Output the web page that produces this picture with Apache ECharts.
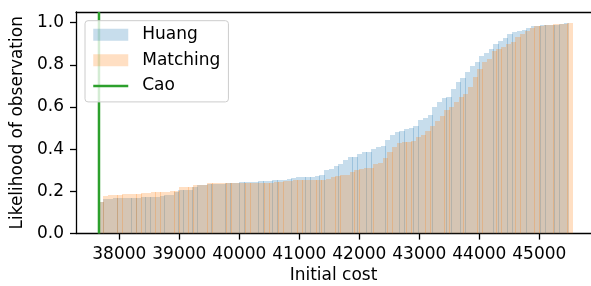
<!DOCTYPE html>
<html>
<head>
<meta charset="utf-8">
<script src="https://cdn.jsdelivr.net/npm/echarts@6/dist/echarts.min.js"></script>
<style>
  html, body { margin: 0; padding: 0; background: #fff; }
  #chart { width: 591px; height: 286px; }
</style>
</head>
<body>
<div id="chart"></div>
<script>
// cumulative histogram, 100 bins per method, heights
var huangRange = [37661, 45495];
var matchingRange = [37661, 45556];
var caoCost = 37661;

var huangHeights = [
  0.15, 0.163, 0.166, 0.167, 0.168, 0.168, 0.169, 0.17, 0.17, 0.173,
  0.173, 0.174, 0.175, 0.18, 0.181, 0.183, 0.197, 0.205, 0.206, 0.207,
  0.22, 0.231, 0.232, 0.236, 0.236, 0.237, 0.237, 0.238, 0.238, 0.239,
  0.244, 0.244, 0.245, 0.246, 0.25, 0.25, 0.251, 0.252, 0.253, 0.254,
  0.261, 0.262, 0.266, 0.266, 0.268, 0.27, 0.275, 0.28, 0.299, 0.304,
  0.318, 0.331, 0.35, 0.362, 0.365, 0.378, 0.386, 0.388, 0.402, 0.409,
  0.413, 0.444, 0.465, 0.481, 0.485, 0.494, 0.498, 0.512, 0.54, 0.546,
  0.564, 0.602, 0.625, 0.641, 0.646, 0.687, 0.717, 0.735, 0.764, 0.792,
  0.811, 0.843, 0.858, 0.877, 0.898, 0.913, 0.929, 0.948, 0.956, 0.961,
  0.965, 0.976, 0.983, 0.986, 0.987, 0.988, 0.989, 0.99, 0.992, 1.0
];
var matchingHeights = [
  0.15, 0.176, 0.184, 0.184, 0.185, 0.186, 0.189, 0.189, 0.19, 0.194,
  0.194, 0.195, 0.195, 0.197, 0.197, 0.2, 0.201, 0.22, 0.221, 0.222,
  0.228, 0.229, 0.23, 0.238, 0.238, 0.238, 0.238, 0.238, 0.239, 0.239,
  0.239, 0.239, 0.24, 0.24, 0.24, 0.241, 0.242, 0.246, 0.246, 0.247,
  0.25, 0.252, 0.253, 0.253, 0.253, 0.254, 0.255, 0.256, 0.258, 0.266,
  0.275, 0.276, 0.277, 0.291, 0.299, 0.308, 0.31, 0.313, 0.328, 0.335,
  0.356, 0.388, 0.412, 0.427, 0.433, 0.436, 0.437, 0.46, 0.466, 0.485,
  0.512, 0.534, 0.556, 0.586, 0.598, 0.625, 0.646, 0.661, 0.696, 0.74,
  0.78, 0.811, 0.827, 0.863, 0.877, 0.882, 0.898, 0.91, 0.932, 0.945,
  0.961, 0.976, 0.984, 0.985, 0.987, 0.988, 0.992, 0.992, 0.995, 1.0
];

var xTicks = [38000, 39000, 40000, 41000, 42000, 43000, 44000, 45000];
var yTicks = [0, 0.2, 0.4, 0.6, 0.8, 1.0];

// [left edge, right edge, height] for each bin
function toBins(range, heights) {
  var w = (range[1] - range[0]) / heights.length;
  return heights.map(function (h, i) {
    return [range[0] + i * w, range[0] + (i + 1) * w, h];
  });
}

// pixel-snapped bars, neighbours overlap by a pixel now and then like the mpl seams
function renderBin(params, api) {
  var top = api.coord([api.value(0), api.value(2)]);
  var bottom = api.coord([api.value(1), 0]);
  var x0 = Math.floor(top[0]);
  var x1 = Math.round(bottom[0]);
  var y0 = Math.round(top[1]);
  return {
    type: 'rect',
    shape: { x: x0, y: y0, width: x1 - x0, height: bottom[1] - y0 },
    style: { fill: api.visual('color') }
  };
}

var font = 'DejaVu Sans';
var chart = echarts.init(document.getElementById('chart'), null, { renderer: 'canvas' });

chart.setOption({
  animation: false,
  textStyle: { fontFamily: font, color: '#000' },
  grid: { left: 76, right: 0, top: 12, bottom: 52.4, containLabel: false, outerBoundsMode: 'none' },
  legend: {
    orient: 'vertical',
    left: 85,
    top: 20.7,
    padding: [4, 8, 6, 7],
    itemWidth: 35,
    itemHeight: 12,
    itemGap: 5.6,
    backgroundColor: 'rgba(255,255,255,0.8)',
    borderColor: '#cccccc',
    borderWidth: 1,
    borderRadius: 3,
    textStyle: { fontFamily: font, fontSize: 17, color: '#000', lineHeight: 20, padding: [0, 0, 0, 9] },
    data: [
      { name: 'Huang', icon: 'rect' },
      { name: 'Matching', icon: 'rect' },
      { name: 'Cao', itemStyle: { opacity: 0 }, lineStyle: { width: 2.5, color: '#2ca02c' } }
    ]
  },
  xAxis: [
    {
      type: 'value',
      min: 37278,
      max: 45861,
      name: 'Initial cost',
      nameLocation: 'middle',
      nameGap: 31,
      nameTextStyle: { fontFamily: font, fontSize: 17, color: '#000' },
      axisLine: { show: true, onZero: false, lineStyle: { color: '#000', width: 1.3 } },
      axisTick: { show: true, length: 6, lineStyle: { color: '#000', width: 1.3 }, customValues: xTicks },
      axisLabel: {
        show: true, margin: 12, fontFamily: font, fontSize: 17, color: '#000', customValues: xTicks,
        formatter: function (v) { return String(v); }
      },
      splitLine: { show: false }
    },
    {
      type: 'value',
      position: 'top',
      min: 37278,
      max: 45861,
      axisLine: { show: true, onZero: false, lineStyle: { color: '#000', width: 1.3 } },
      axisTick: { show: false },
      axisLabel: { show: false },
      splitLine: { show: false }
    }
  ],
  yAxis: {
    type: 'value',
    min: 0,
    max: 1.05,
    name: 'Likelihood of observation',
    nameLocation: 'middle',
    nameGap: 44,
    nameTextStyle: { fontFamily: font, fontSize: 17, color: '#000' },
    axisLine: { show: true, onZero: false, lineStyle: { color: '#000', width: 1.3 } },
    axisTick: { show: true, length: 6, lineStyle: { color: '#000', width: 1.3 }, customValues: yTicks },
    axisLabel: {
      show: true, margin: 12, fontFamily: font, fontSize: 17, color: '#000', customValues: yTicks,
      formatter: function (v) { return v.toFixed(1); }
    },
    splitLine: { show: false }
  },
  series: [
    {
      name: 'Huang',
      type: 'custom',
      renderItem: renderBin,
      clip: true,
      itemStyle: { color: 'rgba(31,119,180,0.25)' },
      encode: { x: [0, 1], y: 2 },
      data: toBins(huangRange, huangHeights),
      z: 2
    },
    {
      name: 'Matching',
      type: 'custom',
      renderItem: renderBin,
      clip: true,
      itemStyle: { color: 'rgba(255,127,14,0.25)' },
      encode: { x: [0, 1], y: 2 },
      data: toBins(matchingRange, matchingHeights),
      z: 2
    },
    {
      name: 'Cao',
      type: 'line',
      symbol: 'none',
      clip: true,
      lineStyle: { color: '#2ca02c', width: 2.5 },
      itemStyle: { color: '#2ca02c' },
      data: [[caoCost, 0], [caoCost, 1.05]],
      z: 3
    }
  ]
});
</script>
</body>
</html>
